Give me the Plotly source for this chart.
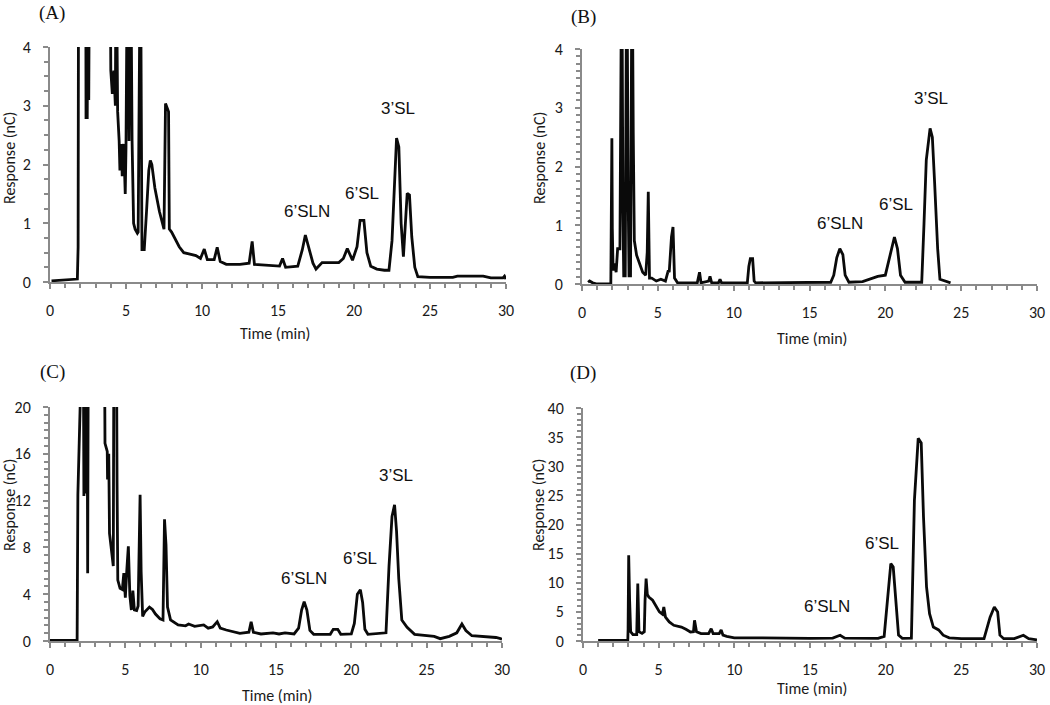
import plotly.graph_objects as go

# ---------------- data ----------------
time_A = [0.1, 0.5, 1.0, 1.8, 1.85, 1.88, 2.35, 2.37, 2.45, 2.5, 2.55, 2.6, 3.95, 4.0, 4.1, 4.2, 4.3, 4.35,
          4.45, 4.55, 4.6, 4.7, 4.75, 4.85, 4.95, 5.0, 5.1, 5.2, 5.3, 5.4, 5.5, 5.6, 5.75, 5.8, 5.95, 6.05,
          6.2, 6.35, 6.5, 6.6, 6.7, 6.9, 7.2, 7.5, 7.6, 7.8, 7.85, 8.0, 8.2, 8.5, 8.8, 9.2, 9.6, 9.9, 10.15,
          10.35, 10.8, 11.0, 11.2, 11.6, 12.5, 13.1, 13.3, 13.45, 14.5, 15.1, 15.3, 15.5, 16.3, 16.6, 16.8,
          17.0, 17.3, 17.5, 17.9, 19.0, 19.3, 19.56, 19.9, 20.2, 20.4, 20.65, 20.85, 21.1, 21.5, 22.0, 22.3,
          22.5, 22.65, 22.8, 22.95, 23.1, 23.25, 23.35, 23.5, 23.65, 23.8, 24.0, 24.2, 25.0, 26.5, 26.8,
          28.5, 29.0, 29.8, 29.9, 30.0]
resp_A = [0.02, 0.03, 0.04, 0.05, 0.6, 6, 6, 2.8, 2.8, 6, 3.1, 6, 6, 3.6, 3.2, 3.6, 3.0, 6,
          2.9, 2.4, 1.9, 2.35, 1.8, 2.35, 1.5, 2.3, 6, 2.4, 6, 2.4, 1.0, 0.9, 0.83, 0.85, 6, 0.55,
          0.55, 1.2, 1.9, 2.07, 2.0, 1.6, 1.2, 0.9, 3.04, 2.9, 0.9, 0.85, 0.75, 0.6, 0.5, 0.47, 0.45, 0.4, 0.56,
          0.38, 0.38, 0.59, 0.35, 0.3, 0.3, 0.32, 0.69, 0.3, 0.28, 0.27, 0.4, 0.25, 0.27, 0.55, 0.8,
          0.6, 0.32, 0.22, 0.33, 0.33, 0.4, 0.57, 0.37, 0.6, 1.05, 1.05, 0.5, 0.27, 0.22, 0.2, 0.2,
          0.7, 1.74, 2.45, 2.3, 1.0, 0.43, 0.8, 1.51, 1.48, 0.77, 0.25, 0.09, 0.08, 0.08, 0.1,
          0.1, 0.07, 0.07, 0.1, 0.05]

time_B = [0.4, 0.5, 0.7, 1.0, 1.9, 1.93, 1.97, 2.0, 2.05, 2.15, 2.25, 2.35, 2.5, 2.55, 2.62, 2.7, 2.75,
          2.85, 2.95, 3.05, 3.1, 3.2, 3.3, 3.38, 3.45, 3.6, 3.8, 4.0, 4.2, 4.3, 4.37, 4.45, 4.6, 4.9, 5.2,
          5.5, 5.69, 5.75, 5.9, 6.0, 6.1, 6.3, 7.6, 7.75, 7.85, 8.35, 8.44, 8.55, 9.0, 9.1, 9.2, 10.9,
          11.0, 11.1, 11.25, 11.35, 11.45, 15.0, 16.4, 16.6, 16.8, 17.0, 17.2, 17.35, 17.6, 18.5, 19.0,
          19.5, 20.0, 20.3, 20.6, 20.8, 21.0, 21.3, 22.4, 22.55, 22.7, 22.95, 23.1, 23.25, 23.45, 23.6,
          24.0, 24.3]
resp_B = [0.03, 0.05, 0.02, 0.0, 0.0, 2.1, 2.48, 0.94, 0.23, 0.35, 0.2, 0.6, 0.6, 2.79, 6, 1.2, 0.14,
          0.14, 6, 1.35, 0.14, 0.14, 6, 2.56, 0.74, 0.49, 0.35, 0.2, 0.15, 0.54, 1.57, 0.1, 0.1, 0.05, 0.08,
          0.05, 0.23, 0.2, 0.8, 0.97, 0.1, 0.02, 0.02, 0.2, 0.02, 0.05, 0.13, 0.02, 0.02, 0.08, 0.02, 0.02,
          0.3, 0.43, 0.43, 0.05, 0.02, 0.02, 0.03, 0.15, 0.45, 0.6, 0.5, 0.15, 0.03, 0.04, 0.08,
          0.13, 0.15, 0.45, 0.8, 0.6, 0.15, 0.03, 0.03, 1.03, 2.11, 2.65, 2.5, 1.72, 0.6, 0.08,
          0.04, 0.02]

time_C = [0.0, 1.8, 1.85, 1.95, 2.2, 2.25, 2.3, 2.4, 2.45, 2.5, 2.55, 3.6, 3.65, 3.8, 3.82, 3.9, 3.95,
          4.05, 4.2, 4.25, 4.4, 4.45, 4.5, 4.65, 4.8, 4.9, 5.0, 5.1, 5.2, 5.3, 5.4, 5.5, 5.6, 5.75, 5.85,
          5.98, 6.05, 6.15, 6.3, 6.6, 6.8, 7.0, 7.3, 7.5, 7.6, 7.7, 7.8, 8.0, 8.5, 9.0, 9.2, 9.6, 10.2,
          10.5, 10.8, 11.1, 11.3, 11.7, 12.6, 13.2, 13.35, 13.5, 14.0, 14.8, 15.2, 15.6, 16.2, 16.5, 16.7,
          16.87, 17.05, 17.25, 17.5, 18.6, 18.8, 19.1, 19.3, 20.0, 20.2, 20.4, 20.6, 20.75, 20.9, 21.1,
          22.3, 22.5, 22.7, 22.87, 23.0, 23.15, 23.35, 23.7, 23.9, 24.2, 25.5, 25.9, 26.5, 27.0, 27.34,
          27.6, 28.0, 29.0, 29.6, 29.9, 30.0]
resp_C = [0.05, 0.05, 12.5, 30, 30, 12.4, 30, 12.6, 30, 5.8, 30, 30, 16.9, 16.2, 13.8, 16.0, 9.2,
          8.1, 6.4, 30, 30, 13.5, 5.2, 4.5, 4.4, 5.8, 3.7, 6.1, 8.1, 3.9, 2.65, 4.3, 2.65, 2.6, 3.0,
          12.5, 5.9, 2.1, 2.5, 2.9, 2.7, 2.3, 1.9, 1.8, 10.4, 8.2, 2.9, 1.8, 1.37, 1.3, 1.45, 1.25, 1.37,
          1.1, 1.2, 1.65, 1.1, 0.94, 0.66, 0.75, 1.65, 0.75, 0.6, 0.7, 0.6, 0.7, 0.6, 1.1, 2.65,
          3.37, 2.65, 0.9, 0.57, 0.57, 1.0, 1.0, 0.57, 0.6, 1.5, 4.0, 4.37, 3.3, 1.0, 0.57,
          0.7, 6.36, 10.64, 11.64, 9.4, 5.3, 1.8, 1.17, 0.9, 0.57, 0.4, 0.2, 0.4, 0.7, 1.45,
          0.9, 0.45, 0.35, 0.3, 0.2, 0.15]

time_D = [1.0, 2.96, 2.98, 3.02, 3.08, 3.15, 3.3, 3.55, 3.62, 3.7, 3.9, 4.05, 4.1, 4.17, 4.25, 4.35,
          4.6, 4.8, 5.05, 5.25, 5.34, 5.45, 5.7, 6.0, 6.5, 6.8, 7.1, 7.3, 7.37, 7.5, 7.8, 8.3, 8.47, 8.6,
          9.0, 9.13, 9.25, 9.5, 10.0, 11.0, 12.5, 15.0, 16.5, 16.99, 17.3, 19.5, 19.9, 20.1, 20.34, 20.5,
          20.7, 20.85, 21.1, 21.7, 21.9, 22.15, 22.35, 22.5, 22.7, 22.9, 23.15, 23.5, 23.8, 24.2, 25.0,
          26.5, 26.9, 27.18, 27.4, 27.55, 27.8, 28.5, 29.1, 29.45, 30.0]
resp_D = [0.1, 0.1, 2.1, 14.7, 7.0, 1.6, 1.1, 1.1, 9.85, 1.6, 1.3, 1.6, 7.0, 10.7, 8.0, 7.55,
          7.0, 6.0, 5.0, 4.6, 5.84, 4.1, 3.27, 2.7, 2.4, 2.0, 1.55, 1.6, 3.55, 1.6, 1.27, 1.27, 2.1, 1.27,
          1.27, 1.9, 1.0, 0.8, 0.55, 0.55, 0.5, 0.45, 0.5, 0.98, 0.5, 0.45, 0.8, 7.0, 13.3, 12.7,
          5.8, 1.0, 0.45, 0.5, 24.2, 34.8, 34.0, 21.3, 9.3, 4.7, 2.4, 1.9, 1.0, 0.55, 0.4,
          0.4, 4.1, 5.84, 5.0, 1.0, 0.4, 0.4, 0.98, 0.4, 0.2]

panel_letters = ["(A)", "(B)", "(C)", "(D)"]
peak_names = ["6\u2019SLN", "6\u2019SL", "3\u2019SL"]
# peak label anchor (time, response) per panel
label_t = [[16.9, 20.55, 22.9], [17.03, 20.72, 23.03], [16.87, 20.58, 22.98], [16.1, 19.79, 22.17]]
label_v = [[1.2, 1.51, 2.96], [1.03, 1.35, 3.15], [5.37, 7.08, 14.13], [5.84, 16.7, 40.2]]

y_ranges = [[0, 4], [0, 4], [0, 20], [0, 40]]
y_dticks = [1, 1, 4, 5]
y_minor = [0.25, 0.125, 4 / 6, 1]
x_title = "Time (min)"
y_title = "Response (nC)"

# ---------------- layout geometry (pixels) ----------------
W, H = 1050, 705
boxes = [(50, 506, 47, 282), (582, 1037, 49, 284), (50, 502, 407, 641), (583, 1037, 408, 641)]

fig = go.Figure()
series = [(time_A, resp_A), (time_B, resp_B), (time_C, resp_C), (time_D, resp_D)]
AX = "#8a8a8a"
SANS = "Carlito, Lato, sans-serif"
tick_font = dict(family=SANS, size=16, color="#1a1a1a")

for i, (tx, ry) in enumerate(series):
    n = "" if i == 0 else str(i + 1)
    fig.add_trace(go.Scatter(x=tx, y=ry, mode="lines", xaxis="x" + n, yaxis="y" + n,
                             line=dict(color="#0a0a0a", width=2.8), showlegend=False,
                             hoverinfo="skip"))
    x0, x1, y0, y1 = boxes[i]
    common = dict(showgrid=False, zeroline=False, showline=True, linecolor=AX, linewidth=2,
                  ticks="outside", ticklen=5, tickwidth=1.5, tickcolor=AX, tickfont=tick_font,
                  automargin=False, fixedrange=True)
    fig.layout["xaxis" + n] = dict(domain=[x0 / W, x1 / W], anchor="y" + n, range=[0, 30],
                                   tick0=0, dtick=5, ticklabelstandoff=8,
                                   minor=dict(dtick=1, ticks="outside", ticklen=4, tickcolor=AX, tickwidth=1.5),
                                   **common)
    fig.layout["yaxis" + n] = dict(domain=[1 - y1 / H, 1 - y0 / H], anchor="x" + n, range=y_ranges[i],
                                   tick0=0, dtick=y_dticks[i], ticklabelstandoff=9,
                                   minor=dict(dtick=y_minor[i], ticks="outside", ticklen=4, tickcolor=AX, tickwidth=1.5),
                                   **common)
    # peak labels
    for name, t, v in zip(peak_names, label_t[i], label_v[i]):
        fig.add_annotation(x=t, y=v, xref="x" + n, yref="y" + n, text=name, showarrow=False,
                           xanchor="center", yanchor="middle",
                           font=dict(family="Liberation Sans, Arial", size=17, color="#111"))

# panel letters
for txt, (px, py) in zip(panel_letters, [(52, 13), (583, 17), (52, 372), (583, 373)]):
    fig.add_annotation(x=px / W, y=1 - py / H, xref="paper", yref="paper", text=txt, showarrow=False,
                       xanchor="center", yanchor="middle",
                       font=dict(family="Liberation Serif, Times New Roman", size=19, color="#111"))

# axis titles
for (px, py) in [(275, 333), (812, 339), (277, 695), (812, 688)]:
    fig.add_annotation(x=px / W, y=1 - py / H, xref="paper", yref="paper", text=x_title, showarrow=False,
                       xanchor="center", yanchor="middle",
                       font=dict(family=SANS, size=16, color="#1a1a1a"))
for (px, py) in [(9, 158), (539, 158), (9, 505), (538, 505)]:
    fig.add_annotation(x=px / W, y=1 - py / H, xref="paper", yref="paper", text=y_title, showarrow=False,
                       textangle=-90, xanchor="center", yanchor="middle",
                       font=dict(family=SANS, size=16, color="#1a1a1a"))

fig.update_layout(width=W, height=H, autosize=False, margin=dict(l=0, r=0, t=0, b=0, pad=0),
                  paper_bgcolor="white", plot_bgcolor="white")

fig.write_html("out.html", config={"displayModeBar": False},
               post_script="document.body.style.margin='0';document.body.style.overflow='hidden';")
